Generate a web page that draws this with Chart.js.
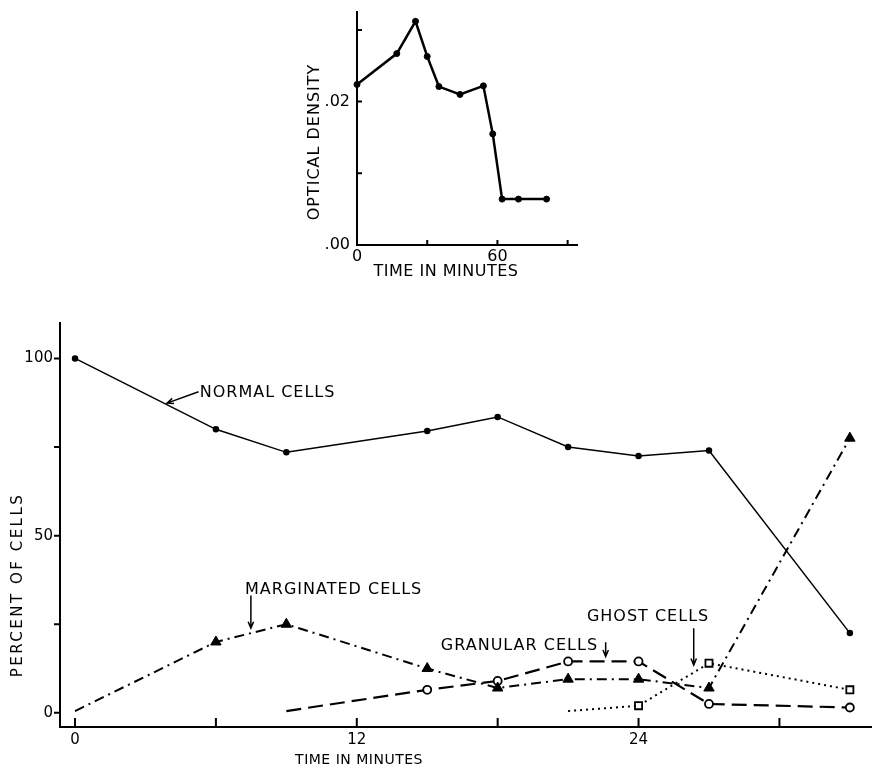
<!DOCTYPE html>
<html>
<head>
<meta charset="utf-8">
<script src="https://cdn.jsdelivr.net/npm/chart.js@4.4.1/dist/chart.umd.min.js"></script>
<style>
  body { margin: 0; background: #fff; }
  #wrap { position: relative; width: 872px; height: 772px; background: #fff; }
  canvas { position: absolute; left: 0; }
  #odChart { top: 0; }
  #cellChart { top: 300px; }
</style>
</head>
<body>
<div id="wrap">
  <canvas id="odChart" width="872" height="290"></canvas>
  <canvas id="cellChart" width="872" height="472"></canvas>
</div>
<script>
// --- DATA: optical density (small chart) --- //
const odTimes = [0, 17, 25, 30, 35, 44, 54, 58, 62, 69, 81];
const odValues = [0.0224, 0.0267, 0.0312, 0.0263, 0.0221, 0.0210, 0.0222, 0.0155, 0.0064, 0.0064, 0.0064];
const odXTicks = [0, 30, 60, 90];
const odXLabels = [0, 60];
const odYTicks = [0, 0.01, 0.02, 0.03];
const odYLabels = [0, 0.02];

// --- DATA: percent of cells (big chart) --- //
const normalTimes = [0, 6, 9, 15, 18, 21, 24, 27, 33];
const normalPct = [100, 80, 73.5, 79.5, 83.5, 75, 72.5, 74, 22.5];
const marginatedTimes = [0, 6, 9, 15, 18, 21, 24, 27, 33];
const marginatedPct = [0.5, 20, 25, 12.5, 7, 9.5, 9.5, 7, 77.5];
const granularTimes = [9, 15, 18, 21, 24, 27, 33];
const granularPct = [0.5, 6.5, 9, 14.5, 14.5, 2.5, 1.5];
const ghostTimes = [21, 24, 27, 33];
const ghostPct = [0.5, 2, 14, 6.5];
const cellXTicks = [0, 6, 12, 18, 24, 30];
const cellXLabels = [0, 12, 24];
const cellYTicks = [0, 25, 50, 75, 100];
const cellYLabels = [0, 50, 100];

const FONT = '"DejaVu Sans", "Liberation Sans", sans-serif';
const pts = (xs, ys) => xs.map((x, i) => ({ x: x, y: ys[i] }));
// no marker on the first point of a series
const firstHidden = (n, r) => Array.from({ length: n }, (_, i) => (i === 0 ? 0 : r));

// --- HELPERS --- //
function drawText(ctx, text, x, y, size, spacing, rotate) {
  ctx.save();
  ctx.font = size + 'px ' + FONT;
  ctx.letterSpacing = spacing + 'px';
  ctx.fillStyle = '#000';
  ctx.textBaseline = 'middle';
  ctx.translate(x, y);
  if (rotate) ctx.rotate(-Math.PI / 2);
  ctx.textAlign = rotate ? 'center' : 'left';
  ctx.fillText(text, 0, 0);
  ctx.restore();
}

function drawTextCentered(ctx, text, x, y, size, spacing) {
  ctx.save();
  ctx.font = size + 'px ' + FONT;
  ctx.letterSpacing = spacing + 'px';
  ctx.fillStyle = '#000';
  ctx.textBaseline = 'middle';
  ctx.textAlign = 'center';
  ctx.fillText(text, x, y);
  ctx.restore();
}

function drawArrow(ctx, x1, y1, x2, y2) {
  const a = Math.atan2(y2 - y1, x2 - x1);
  const h = 7;
  ctx.save();
  ctx.strokeStyle = '#000';
  ctx.lineWidth = 1.5;
  ctx.beginPath();
  ctx.moveTo(x1, y1);
  ctx.lineTo(x2, y2);
  ctx.moveTo(x2 - h * Math.cos(a - 0.4), y2 - h * Math.sin(a - 0.4));
  ctx.lineTo(x2, y2);
  ctx.lineTo(x2 - h * Math.cos(a + 0.4), y2 - h * Math.sin(a + 0.4));
  ctx.stroke();
  ctx.restore();
}

// tick marks: positive length = into the plot, negative = outside
function tickMarks(xLen, yLen) {
  return {
    id: 'tickMarks',
    afterDraw(chart) {
      const { ctx, chartArea, scales } = chart;
      ctx.save();
      ctx.strokeStyle = '#000';
      ctx.lineWidth = 2;
      ctx.beginPath();
      scales.x.ticks.forEach(t => {
        const px = scales.x.getPixelForValue(t.value);
        ctx.moveTo(px, chartArea.bottom);
        ctx.lineTo(px, chartArea.bottom - xLen);
      });
      scales.y.ticks.forEach(t => {
        const py = scales.y.getPixelForValue(t.value);
        ctx.moveTo(chartArea.left, py);
        ctx.lineTo(chartArea.left + yLen, py);
      });
      ctx.stroke();
      ctx.restore();
    }
  };
}

// --- SMALL CHART: OPTICAL DENSITY --- //
new Chart(document.getElementById('odChart'), {
  type: 'line',
  data: {
    datasets: [{
      data: pts(odTimes, odValues),
      borderColor: '#000',
      backgroundColor: '#000',
      borderWidth: 2.5,
      pointRadius: 3,
      pointBorderWidth: 1,
      pointBackgroundColor: '#000',
      tension: 0
    }]
  },
  options: {
    responsive: false,
    animation: false,
    devicePixelRatio: 1,
    clip: false,
    layout: { autoPadding: false, padding: { left: 297, right: 295, top: 12, bottom: 0 } },
    plugins: { legend: { display: false }, tooltip: { enabled: false } },
    scales: {
      x: {
        type: 'linear', min: 0, max: 94,
        afterBuildTicks: s => { s.ticks = odXTicks.map(v => ({ value: v })); },
        afterFit: s => { s.height = 45; s.paddingLeft = 0; s.paddingRight = 0; },
        grid: { display: false, drawTicks: false },
        border: { display: true, color: '#000', width: 2 },
        ticks: {
          color: '#000', padding: 2, maxRotation: 0, autoSkip: false,
          font: { family: FONT, size: 16 },
          callback: v => (odXLabels.includes(v) ? String(v) : '')
        }
      },
      y: {
        type: 'linear', min: 0, max: 0.0325,
        afterBuildTicks: s => { s.ticks = odYTicks.map(v => ({ value: v })); },
        afterFit: s => { s.width = 60; s.paddingTop = 0; s.paddingBottom = 0; },
        grid: { display: false, drawTicks: false },
        border: { display: true, color: '#000', width: 2 },
        ticks: {
          color: '#000', padding: 7, autoSkip: false,
          font: { family: FONT, size: 16 },
          callback: v => (odYLabels.includes(v) ? v.toFixed(2).replace(/^0/, '') : '')
        }
      }
    }
  },
  plugins: [
    tickMarks(5, 5),
    {
      id: 'odText',
      afterDraw(chart) {
        const ctx = chart.ctx;
        drawText(ctx, 'OPTICAL DENSITY', 315, 142, 16, 1, true);
        drawTextCentered(ctx, 'TIME IN MINUTES', 446, 272, 16, 0.5);
      }
    }
  ]
});

// --- BIG CHART: PERCENT OF CELLS --- //
const cellNotes = [
  { text: 'NORMAL CELLS', x: 5.31, y: 90.4, from: [5.26, 90.6], to: [3.92, 87.4] },
  { text: 'MARGINATED CELLS', x: 7.24, y: 34.8, from: [7.49, 33.1], to: [7.49, 23.9] },
  { text: 'GRANULAR CELLS', x: 15.58, y: 18.8, from: [22.6, 19.9], to: [22.6, 15.9] },
  { text: 'GHOST CELLS', x: 21.8, y: 27.2, from: [26.35, 23.9], to: [26.35, 13.5] }
];

new Chart(document.getElementById('cellChart'), {
  type: 'line',
  data: {
    datasets: [
      {
        label: 'Normal cells',
        data: pts(normalTimes, normalPct),
        borderColor: '#000', borderWidth: 1.5,
        pointStyle: 'circle', pointRadius: 2.5,
        pointBackgroundColor: '#000', pointBorderColor: '#000',
        tension: 0
      },
      {
        label: 'Marginated cells',
        data: pts(marginatedTimes, marginatedPct),
        borderColor: '#000', borderWidth: 2, borderDash: [10, 5, 2, 5],
        pointStyle: 'triangle', pointRadius: firstHidden(marginatedTimes.length, 6),
        pointBackgroundColor: '#000', pointBorderColor: '#000', pointBorderWidth: 1,
        tension: 0
      },
      {
        label: 'Granular cells',
        data: pts(granularTimes, granularPct),
        borderColor: '#000', borderWidth: 2.2, borderDash: [15, 7],
        pointStyle: 'circle', pointRadius: firstHidden(granularTimes.length, 4),
        pointBackgroundColor: '#fff', pointBorderColor: '#000', pointBorderWidth: 1.8,
        tension: 0
      },
      {
        label: 'Ghost cells',
        data: pts(ghostTimes, ghostPct),
        borderColor: '#000', borderWidth: 2, borderDash: [2, 4],
        pointStyle: 'rect', pointRadius: firstHidden(ghostTimes.length, 5),
        pointBackgroundColor: '#fff', pointBorderColor: '#000', pointBorderWidth: 1.8,
        tension: 0
      }
    ]
  },
  options: {
    responsive: false,
    animation: false,
    devicePixelRatio: 1,
    clip: false,
    layout: { autoPadding: false, padding: { left: 0, right: 1, top: 23, bottom: 0 } },
    plugins: { legend: { display: false }, tooltip: { enabled: false } },
    scales: {
      x: {
        type: 'linear', min: -0.64, max: 33.9,
        afterBuildTicks: s => { s.ticks = cellXTicks.map(v => ({ value: v })); },
        afterFit: s => { s.height = 45; },
        grid: { display: false, drawTicks: false },
        border: { display: true, color: '#000', width: 2 },
        ticks: {
          color: '#000', padding: 4, maxRotation: 0, autoSkip: false,
          font: { family: FONT, size: 15 },
          callback: v => (cellXLabels.includes(v) ? String(v) : '')
        }
      },
      y: {
        type: 'linear', min: -4, max: 110,
        afterBuildTicks: s => { s.ticks = cellYTicks.map(v => ({ value: v })); },
        afterFit: s => { s.width = 60; },
        grid: { display: false, drawTicks: false },
        border: { display: true, color: '#000', width: 2 },
        ticks: {
          color: '#000', padding: 7, autoSkip: false,
          font: { family: FONT, size: 15 },
          callback: v => (cellYLabels.includes(v) ? String(v) : '')
        }
      }
    }
  },
  plugins: [
    tickMarks(9, -6),
    {
      id: 'cellText',
      afterDraw(chart) {
        const { ctx, scales } = chart;
        const X = v => scales.x.getPixelForValue(v);
        const Y = v => scales.y.getPixelForValue(v);
        cellNotes.forEach(n => {
          drawText(ctx, n.text, X(n.x), Y(n.y), 16, 1, false);
          drawArrow(ctx, X(n.from[0]), Y(n.from[1]), X(n.to[0]), Y(n.to[1]));
        });
        drawText(ctx, 'PERCENT OF CELLS', 18, 285, 15, 2.5, true);
        drawTextCentered(ctx, 'TIME IN MINUTES', 359, 460, 14, 0.5);
      }
    }
  ]
});
</script>
</body>
</html>
